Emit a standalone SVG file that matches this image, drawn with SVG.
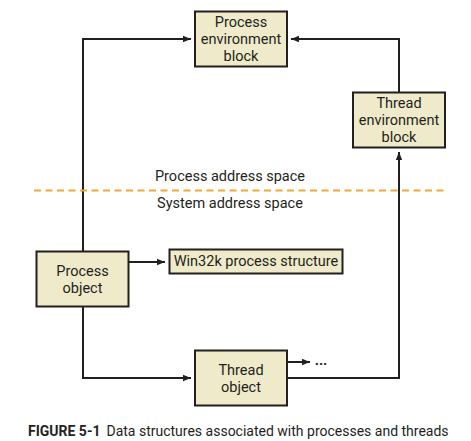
<svg xmlns="http://www.w3.org/2000/svg" width="471" height="441" viewBox="0 0 471 441">
<defs>
<style>
.box{fill:#efebca;stroke:#231f20;stroke-width:2}
.t{font-family:Roboto,"Open Sans",sans-serif;font-size:14.5px;fill:#231f20;text-anchor:middle}
.ln{fill:none;stroke:#231f20;stroke-width:2}
.cap{font-family:Roboto,"Open Sans",sans-serif;font-size:14px;fill:#231f20}
</style>
<marker id="ah" viewBox="0 0 10 10" refX="10" refY="5" markerWidth="4" markerHeight="4" orient="auto" markerUnits="strokeWidth">
<path d="M0,1 L10,5 L0,9 Z" fill="#231f20"/>
</marker>
</defs>
<rect width="471" height="441" fill="#ffffff"/>
<g id="connectors">
<path class="ln" d="M83,251 V39 H191" marker-end="url(#ah)"/>
<path class="ln" d="M399,92 V39 H291" marker-end="url(#ah)"/>
<path class="ln" d="M129,262 H165" marker-end="url(#ah)"/>
<path class="ln" d="M83,306 V378 H191" marker-end="url(#ah)"/>
<path class="ln" d="M287,378 H399 V152" marker-end="url(#ah)"/>
<path class="ln" d="M287,362 H310" marker-end="url(#ah)"/>
</g>
<line x1="34" y1="190.5" x2="448" y2="190.5" stroke="#f0a83a" stroke-width="2" stroke-dasharray="7,4.5"/>
<text class="t" x="230" y="181">Process address space</text>
<text class="t" x="230" y="208">System address space</text>
<g id="peb">
<rect class="box" x="195" y="11.5" width="92" height="55"/>
<text class="t" x="241" y="27">Process</text>
<text class="t" x="241" y="44">environment</text>
<text class="t" x="241" y="61">block</text>
</g>
<g id="teb">
<rect class="box" x="353" y="92.5" width="92" height="55"/>
<text class="t" x="399" y="108">Thread</text>
<text class="t" x="399" y="125">environment</text>
<text class="t" x="399" y="142">block</text>
</g>
<g id="process-object">
<rect class="box" x="36.5" y="251.5" width="92" height="55"/>
<text class="t" x="82.5" y="276">Process</text>
<text class="t" x="82.5" y="293">object</text>
</g>
<g id="win32k">
<rect class="box" x="169.5" y="249.5" width="173" height="24"/>
<text class="t" x="256" y="266" font-size="14">Win32k process structure</text>
</g>
<g id="thread-object">
<rect class="box" x="195" y="350.5" width="92" height="55"/>
<text class="t" x="241" y="375">Thread</text>
<text class="t" x="241" y="392">object</text>
</g>
<text class="t" x="321" y="365" font-weight="bold">...</text>
<text class="cap" x="28" y="436"><tspan font-weight="bold">FIGURE 5-1</tspan><tspan dx="6">Data structures associated with processes and threads</tspan></text>
</svg>
